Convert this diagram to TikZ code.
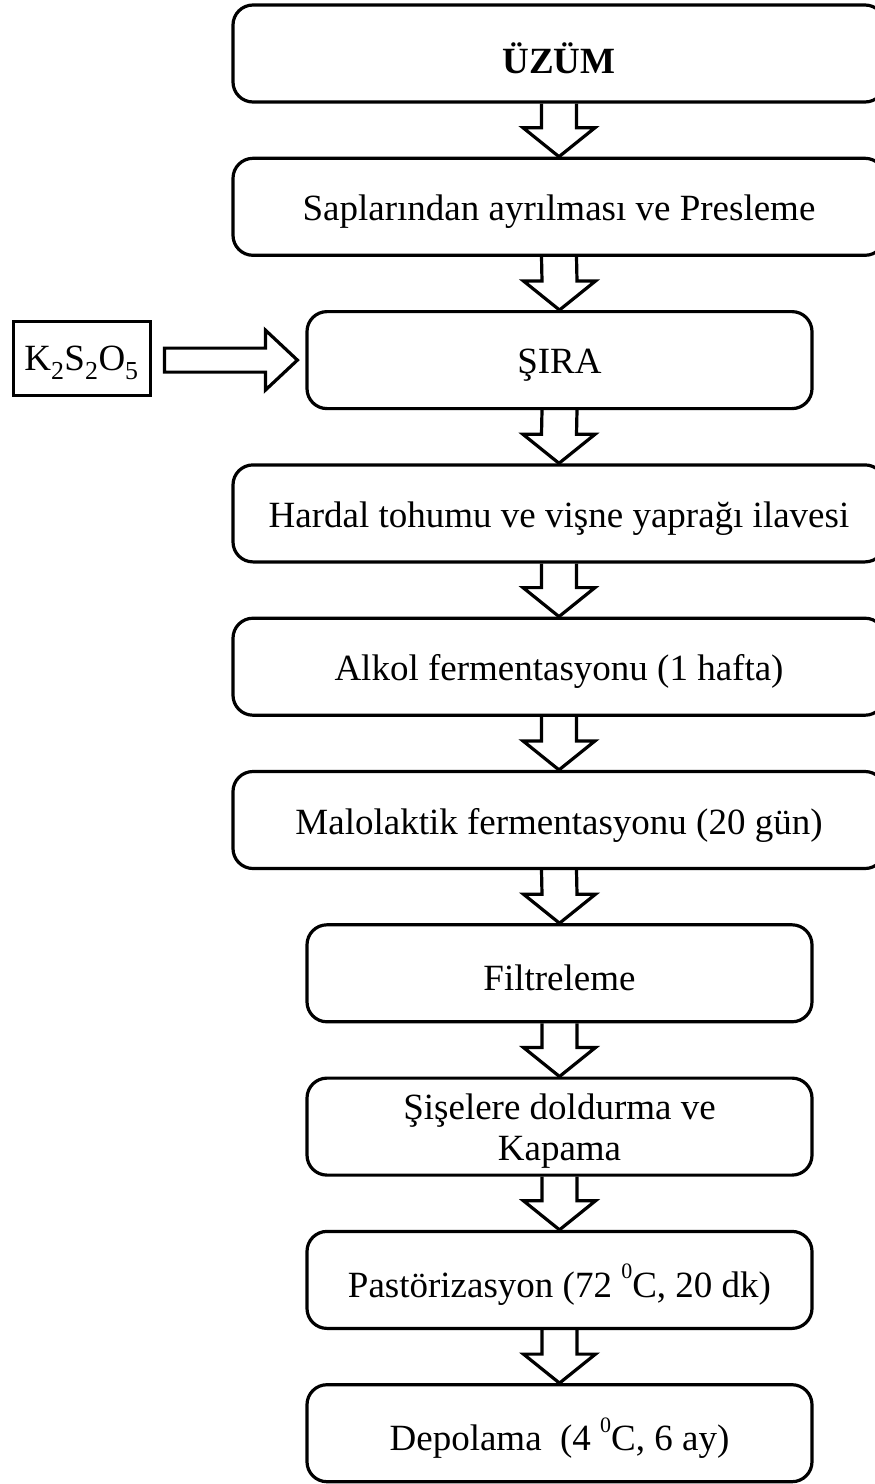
\documentclass[tikz,border=0pt]{standalone}
\usepackage{fontspec}
\setmainfont{Liberation Serif}
\usetikzlibrary{calc}
\newcommand\dsup{\raisebox{0.5em}{\fontsize{22}{22}\selectfont 0}}
\newcommand\dn[1]{\raisebox{-5pt}[\height][\depth]{#1}}
\tikzset{
  box/.style={draw, line width=3.2pt, rounded corners=20pt, minimum height=97pt, inner sep=0pt, align=center, font=\fontsize{37}{40}\selectfont},
  bigbox/.style={box, minimum width=652pt},
  smallbox/.style={box, minimum width=505pt},
  sqbox/.style={draw, line width=3pt, minimum width=137pt, minimum height=74pt, inner sep=0pt, font=\fontsize{37}{40}\selectfont},
  hollow/.style={draw, line width=3.2pt, line join=miter},
}
\newcommand\downarr[2]{%
  \draw[hollow] ($(#1.south)+(-17.5pt,0)$) -- ($(#2.north)+(-17.5pt,29pt)$) -- ($(#2.north)+(-36pt,29pt)$) -- (#2.north) -- ($(#2.north)+(36pt,29pt)$) -- ($(#2.north)+(17.5pt,29pt)$) -- ($(#1.south)+(17.5pt,0)$);}
\begin{document}
\begin{tikzpicture}
\useasboundingbox (0pt,0pt) rectangle (875pt,-1484pt);
\node[bigbox] (b0) at (559pt,-53.5pt) {\dn{\textbf{ÜZÜM}}};
\node[bigbox] (b1) at (559pt,-206.8pt) {\dn{Saplarından ayrılması ve Presleme}};
\node[smallbox] (b2) at (559.5pt,-360.1pt) {\dn{ŞIRA}};
\node[bigbox] (b3) at (559pt,-513.4pt) {\dn{Hardal tohumu ve vişne yaprağı ilavesi}};
\node[bigbox] (b4) at (559pt,-666.7pt) {\dn{Alkol fermentasyonu (1 hafta)}};
\node[bigbox] (b5) at (559pt,-820pt) {\dn{Malolaktik fermentasyonu (20 gün)}};
\node[smallbox] (b6) at (559.5pt,-973.3pt) {\dn{Filtreleme}};
\node[smallbox] (b7) at (559.5pt,-1126.6pt) {\dn{\setlength{\tabcolsep}{0pt}\begin{tabular}{c}Şişelere doldurma ve\\[1pt]Kapama\end{tabular}}};
\node[smallbox] (b8) at (559.5pt,-1279.9pt) {\dn{Pastörizasyon (72 \dsup C, 20 dk)}};
\node[smallbox] (b9) at (559.5pt,-1433.2pt) {\dn{Depolama~ (4 \dsup C, 6 ay)}};
\node[sqbox] (k) at (81.5pt,-358pt) {\dn{K\textsubscript{2}S\textsubscript{2}O\textsubscript{5}}};
\downarr{b0}{b1}
\downarr{b1}{b2}
\downarr{b2}{b3}
\downarr{b3}{b4}
\downarr{b4}{b5}
\downarr{b5}{b6}
\downarr{b6}{b7}
\downarr{b7}{b8}
\downarr{b8}{b9}
\coordinate (ks) at ($(k.east)+(13pt,0)$);
\coordinate (kt) at ($(b2.west)+(-8pt,0)$);
\draw[hollow] ($(kt)+(-32pt,12pt)$) -- ($(ks |- kt)+(0,12pt)$) -- ($(ks |- kt)+(0,-12pt)$) -- ($(kt)+(-32pt,-12pt)$) -- ($(kt)+(-32pt,-30pt)$) -- (kt) -- ($(kt)+(-32pt,30pt)$) -- cycle;
\end{tikzpicture}
\end{document}
